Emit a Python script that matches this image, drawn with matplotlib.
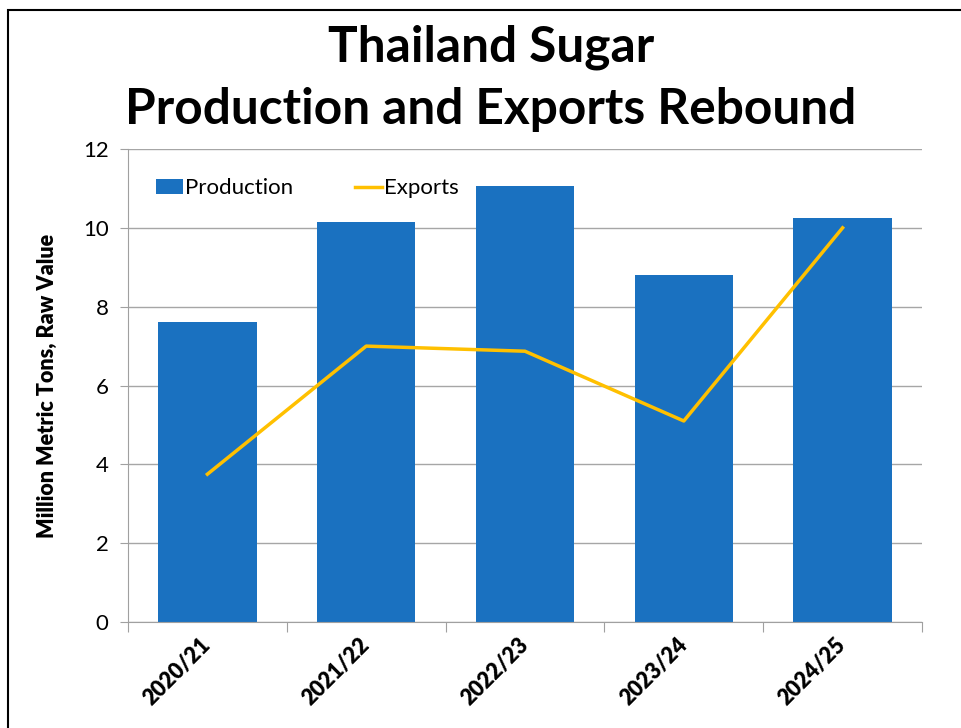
# Thailand sugar production and exports

import numpy as np
import matplotlib.pyplot as plt
from matplotlib.patches import Rectangle

plt.rcParams['font.family'] = ['Lato', 'DejaVu Sans']

# Data
years = ["2020/21", "2021/22", "2022/23", "2023/24", "2024/25"]
production = [7.6, 10.15, 11.07, 8.8, 10.25]
exports = [3.75, 7.0, 6.87, 5.1, 10.0]

bar_color = "#1A71C0"
line_color = "#FFC000"

fig = plt.figure(figsize=(9.61, 7.28), dpi=100)
ax = fig.add_axes([0.1332, 0.1456, 0.8262, 0.6497])

x = np.arange(len(years))
bars = ax.bar(x, production, width=0.62, color=bar_color, label="Production", zorder=2)
line, = ax.plot(x, exports, color=line_color, lw=2.5, label="Exports", zorder=3)

ax.set_xlim(-0.5, len(years) - 0.5)
ax.set_ylim(0, 12)
ax.set_yticks(np.arange(0, 13, 2))
ax.tick_params(axis="y", labelsize=16, length=6, color="#A0A0A0", pad=8)
ax.yaxis.grid(True, color="#A6A6A6", lw=1, zorder=0)
ax.set_axisbelow(True)

# ticks on category boundaries, labels at centres
ax.set_xticks(np.arange(-0.5, len(years), 1.0))
ax.set_xticklabels([])
ax.tick_params(axis="x", which="major", length=7, color="#A0A0A0")
ax.set_xticks(x, minor=True)
ax.set_xticklabels(years, minor=True, rotation=45, ha="right", va="center",
                   rotation_mode="anchor", fontsize=15.5, fontweight="heavy")
ax.tick_params(axis="x", which="minor", length=0, pad=14)

for s in ["top", "right"]:
    ax.spines[s].set_visible(False)
for s in ["left", "bottom"]:
    ax.spines[s].set_color("#A0A0A0")

ax.set_ylabel("Million Metric Tons, Raw Value", fontsize=15.5, fontweight="heavy", labelpad=18)

ax.legend([bars, line], ["Production", "Exports"], loc="upper left",
          bbox_to_anchor=(0.01, 0.98), ncol=2, frameon=False,
          fontsize=16, handlelength=1.2, handletextpad=0.1, columnspacing=2.8)

fig.text(0.511, 0.9354, "Thailand Sugar", ha="center", va="center",
         fontsize=35.7, fontweight="bold")
fig.text(0.511, 0.849, "Production and Exports Rebound", ha="center", va="center",
         fontsize=35.7, fontweight="bold")

# outer border
fig.patches.append(Rectangle((8 / 961, -0.1), 1.2, 1 - 10 / 728 + 0.1, transform=fig.transFigure,
                             fill=False, edgecolor="black", lw=1.5))

fig.savefig("out.png", dpi=100)
